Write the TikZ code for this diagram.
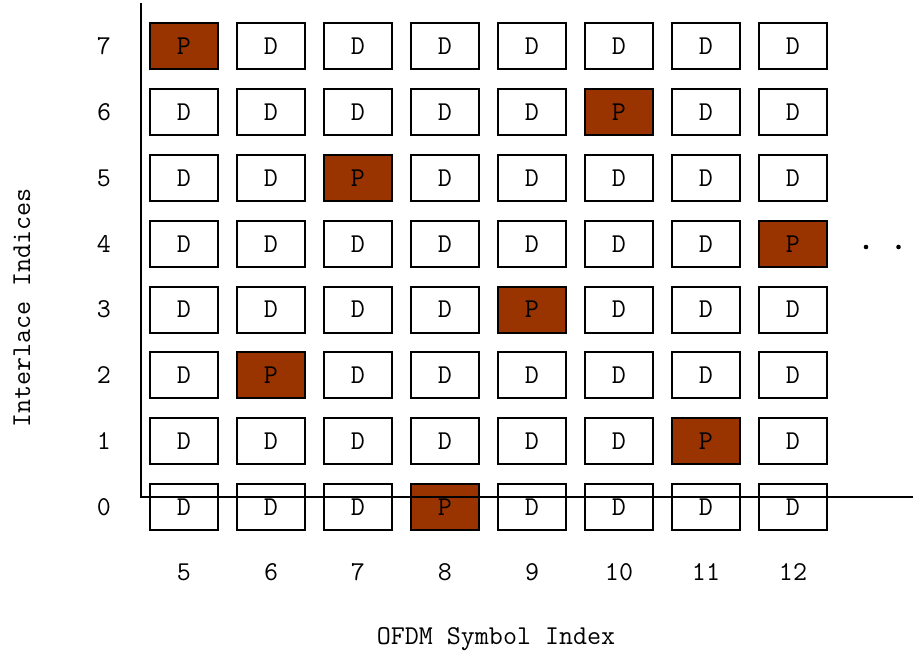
\documentclass[tikz,border=0pt]{standalone}
\usepackage{tikz}
\usetikzlibrary{positioning}
\definecolor{pilotbrown}{HTML}{993300}

\begin{document}
\begin{tikzpicture}[x=0.02cm, y=0.02cm, line width=1.1pt,
		font=\ttfamily\fontsize{15.5}{18}\selectfont]

	\tikzset{
		dcell/.style={
				rectangle, draw=black, fill=white, inner sep=0pt, minimum width=1.36cm, minimum height=0.92cm
			},
		pcell/.style={
				rectangle, draw=black, fill=pilotbrown, inner sep=0pt, minimum width=1.36cm, minimum height=0.92cm
			},
		tick/.style={
				inner sep=0pt
			},
		dotmark/.style={
				circle, fill=black, inner sep=0pt, minimum size=2.6pt
			},
	}

	\useasboundingbox (0,0) rectangle (913,657);

	% data cells
	\foreach \c in {5,...,12} {
			\foreach \r in {0,...,7} {
					\node[dcell] (c\c r\r) at ({184+87*(\c-5)},{150+65.8*\r}) {D};
				}
		}

	% pilot cells
	\foreach \r/\c in {0/8, 1/11, 2/6, 3/9, 4/12, 5/7, 6/10, 7/5} {
			\node[pcell] (c\c r\r) at ({184+87*(\c-5)},{150+65.8*\r}) {P};
		}

	% axes
	\coordinate (o) at (141,160);
	\coordinate (ytop) at (141,654);
	\coordinate (xend) at (913,160);
	\draw (ytop) -- (o) -- (xend);

	% row and column labels
	\foreach \r in {0,...,7} {
			\node[tick] (row\r) at (104,{150+65.8*\r}) {\r};
		}
	\foreach \c in {5,...,12} {
			\node[tick] (col\c) at ({184+87*(\c-5)},85) {\c};
		}

	\node[dotmark] (dot1) at (866,410) {};
	\node[dotmark, right=26 of dot1] (dot2) {};

	\node[] (xlabel) at (496,18) {OFDM Symbol Index};
	\node[rotate=90] (ylabel) at (22,349) {Interlace Indices};
\end{tikzpicture}
\end{document}
